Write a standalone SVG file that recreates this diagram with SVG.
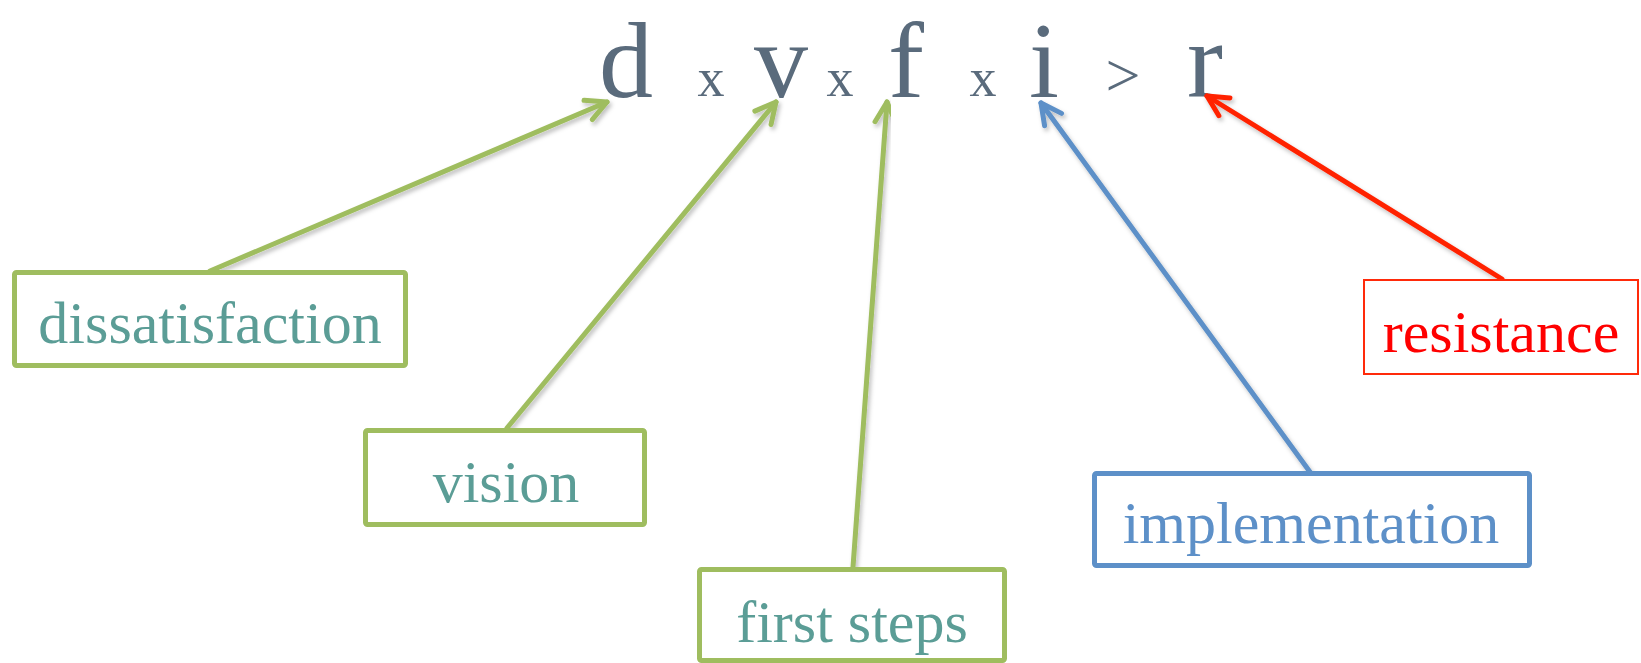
<svg xmlns="http://www.w3.org/2000/svg" width="1641" height="663" viewBox="0 0 1641 663">
  <style>
    .eq { font-family: "Liberation Serif", "DejaVu Serif", serif; fill: #5a6b7c; text-anchor: middle; }
    .big { font-size: 108px; }
    .op { font-size: 54px; }
    .lbl { font-family: "Liberation Serif", "DejaVu Serif", serif; font-size: 60px; text-anchor: middle; }
    .teal { fill: #5b9d96; }
    .box-green { fill: #ffffff; stroke: #9fbd5f; stroke-width: 5; }
    .box-blue { fill: #ffffff; stroke: #5d90c8; stroke-width: 5; }
    .box-red { fill: #ffffff; stroke: #ff2a0a; stroke-width: 2; }
    .link { fill: none; stroke-width: 5; stroke-linecap: round; filter: url(#shade); }
  </style>
  <defs>
    <filter id="shade" x="-10%" y="-10%" width="120%" height="120%">
      <feDropShadow dx="2" dy="3" stdDeviation="2" flood-color="#000" flood-opacity="0.25"/>
    </filter>
    <marker id="headG" viewBox="-26 -14 30 28" refX="0" refY="0" markerWidth="30" markerHeight="28" markerUnits="userSpaceOnUse" orient="auto" overflow="visible">
      <path d="M-20.5,-10.5 L0,0 L-20.5,10.5" fill="none" stroke="#9fbd5f" stroke-width="5" stroke-linecap="round" stroke-linejoin="round"/>
    </marker>
    <marker id="headB" viewBox="-26 -14 30 28" refX="0" refY="0" markerWidth="30" markerHeight="28" markerUnits="userSpaceOnUse" orient="auto" overflow="visible">
      <path d="M-20.5,-10.5 L0,0 L-20.5,10.5" fill="none" stroke="#5d90c8" stroke-width="5" stroke-linecap="round" stroke-linejoin="round"/>
    </marker>
    <marker id="headR" viewBox="-26 -14 30 28" refX="0" refY="0" markerWidth="30" markerHeight="28" markerUnits="userSpaceOnUse" orient="auto" overflow="visible">
      <path d="M-20.5,-10.5 L0,0 L-20.5,10.5" fill="none" stroke="#ff2400" stroke-width="5" stroke-linecap="round" stroke-linejoin="round"/>
    </marker>
  </defs>

  <rect width="1641" height="663" fill="#ffffff"/>

  <!-- formula -->
  <g id="formula">
    <text class="eq big" x="626" y="97">d</text>
    <text class="eq op" x="711" y="96">x</text>
    <text class="eq big" x="781" y="97">v</text>
    <text class="eq op" x="840" y="96">x</text>
    <text class="eq big" x="906" y="97">f</text>
    <text class="eq op" x="983" y="96">x</text>
    <text class="eq big" x="1044" y="97">i</text>
    <text class="eq op" x="1123" y="96" style="font-size:62px">&gt;</text>
    <text class="eq big" x="1205" y="97">r</text>
  </g>

  <!-- connectors -->
  <g id="connectors">
    <line class="link" x1="210" y1="271" x2="607" y2="102" stroke="#9fbd5f" marker-end="url(#headG)"/>
    <line class="link" x1="507" y1="428" x2="776" y2="102" stroke="#9fbd5f" marker-end="url(#headG)"/>
    <line class="link" x1="853" y1="567" x2="887" y2="102" stroke="#9fbd5f" marker-end="url(#headG)"/>
    <line class="link" x1="1310" y1="472" x2="1041" y2="103" stroke="#5d90c8" marker-end="url(#headB)"/>
    <line class="link" x1="1502" y1="279" x2="1207" y2="96" stroke="#ff2400" marker-end="url(#headR)"/>
  </g>

  <!-- label boxes -->
  <g id="dissatisfaction">
    <rect class="box-green" x="14.5" y="272.5" width="391" height="93" rx="2"/>
    <text class="lbl teal" x="210" y="343">dissatisfaction</text>
  </g>
  <g id="vision">
    <rect class="box-green" x="365.5" y="430.5" width="279" height="94" rx="2"/>
    <text class="lbl teal" x="506" y="502">vision</text>
  </g>
  <g id="first-steps">
    <rect class="box-green" x="699.5" y="569.5" width="305" height="91" rx="2"/>
    <text class="lbl teal" x="852" y="642">first steps</text>
  </g>
  <g id="implementation">
    <rect class="box-blue" x="1094.5" y="473.5" width="435" height="92" rx="2"/>
    <text class="lbl" x="1311" y="543" fill="#5d90c8">implementation</text>
  </g>
  <g id="resistance">
    <rect class="box-red" x="1364" y="280" width="274" height="94"/>
    <text class="lbl" x="1501" y="352" fill="#ff0000">resistance</text>
  </g>
</svg>
